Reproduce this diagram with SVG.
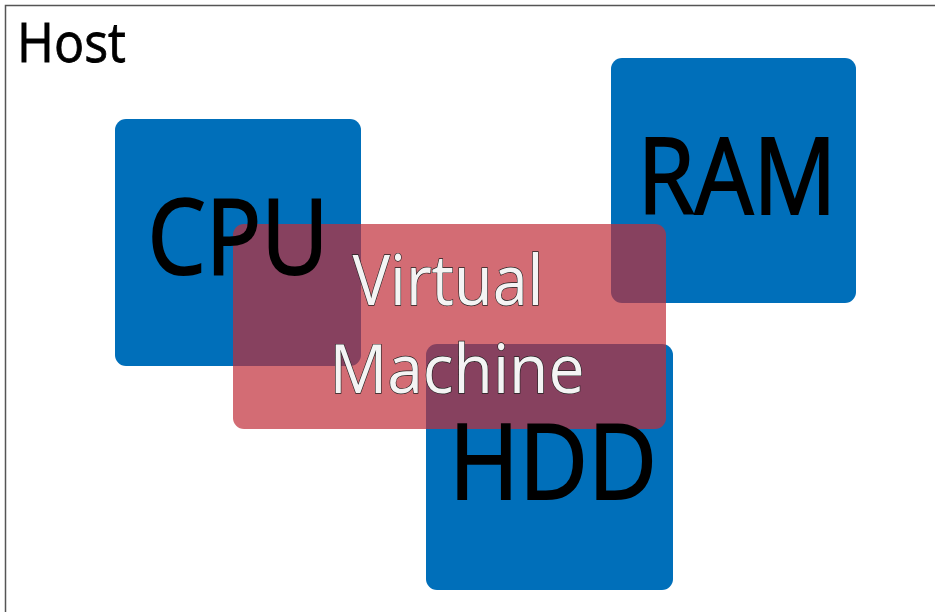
<svg xmlns="http://www.w3.org/2000/svg" width="935" height="612" viewBox="0 0 935 612">
<style>
.box{fill:#006fba;}
.vm{fill:rgb(193,45,57);fill-opacity:0.7;}
.lbl{font-family:"Open Sans","Noto Sans",sans-serif;fill:#000;stroke:#000;stroke-width:2;text-anchor:middle;}
.vmt{font-family:"Open Sans","Noto Sans",sans-serif;fill:#f4f4f4;stroke:#222;stroke-width:1.3;paint-order:stroke;text-anchor:middle;}
</style>
<rect x="0" y="0" width="935" height="612" fill="#fff"/>
<g id="host">
<rect x="5.5" y="5.5" width="1000" height="700" fill="none" stroke="#555" stroke-width="1.5"/>
<text x="17" y="62" font-family="Open Sans, Noto Sans, sans-serif" font-size="55" stroke="#000" stroke-width="0.8" textLength="109" lengthAdjust="spacingAndGlyphs">Host</text>
</g>
<g id="cpu"><rect class="box" x="115" y="119" width="246" height="247" rx="11"/></g>
<g id="ram"><rect class="box" x="611" y="58" width="245" height="245" rx="11"/></g>
<g id="hdd"><rect class="box" x="426" y="344" width="247" height="246" rx="11"/></g>
<g id="vm"><rect class="vm" x="233" y="224" width="433" height="205" rx="11"/></g>
<g id="labels">
<text class="lbl" x="238" y="274" font-size="104" textLength="181" lengthAdjust="spacingAndGlyphs">CPU</text>
<text class="lbl" x="737" y="214" font-size="106" textLength="199" lengthAdjust="spacingAndGlyphs">RAM</text>
<text class="lbl" x="553" y="499" font-size="104" textLength="208" lengthAdjust="spacingAndGlyphs">HDD</text>
<text class="vmt" x="448" y="305" font-size="69" textLength="191" lengthAdjust="spacingAndGlyphs">Virtual</text>
<text class="vmt" x="457" y="393" font-size="67" textLength="255" lengthAdjust="spacingAndGlyphs">Machine</text>
</g>
<g id="connectors"></g>
</svg>
